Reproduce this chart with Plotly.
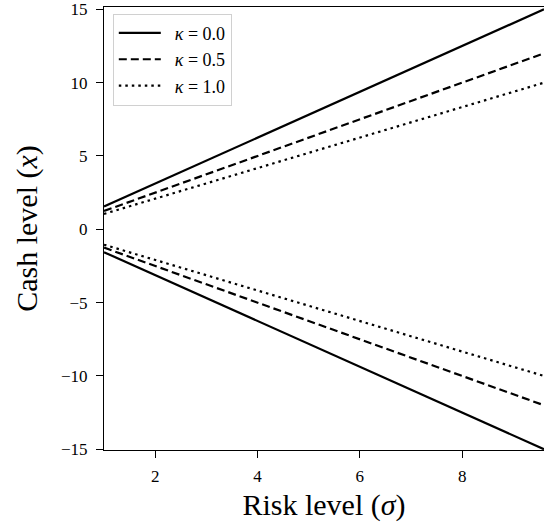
import plotly.graph_objects as go

sigma = [1.0, 9.6]
kappas = ["0.0", "0.5", "1.0"]
upper = {"0.0": [1.56, 15.0], "0.5": [1.25, 12.0], "1.0": [1.05, 10.0]}
lower = {"0.0": [-1.56, -15.0], "0.5": [-1.25, -12.0], "1.0": [-1.05, -10.0]}
dashes = {"0.0": "solid", "0.5": "8px,4px", "1.0": "2.5px,4px"}
y_ticks = [-15, -10, -5, 0, 5, 10, 15]
x_ticks = [2, 4, 6, 8]

font = "Liberation Serif"
sp = "\u2005"
fig = go.Figure()
for k in kappas:
    fig.add_trace(go.Scatter(x=sigma, y=upper[k], mode="lines",
                             line=dict(color="black", width=2.2, dash=dashes[k]),
                             name=f"  <i>κ</i>{sp}={sp}" + k, legendgroup=k))
    fig.add_trace(go.Scatter(x=sigma, y=lower[k], mode="lines",
                             line=dict(color="black", width=2.2, dash=dashes[k]),
                             name=f"  <i>κ</i>{sp}={sp}" + k, legendgroup=k, showlegend=False))

fig.update_layout(
    width=544, height=530,
    margin=dict(l=104, r=0, t=5, b=80),
    plot_bgcolor="white", paper_bgcolor="white",
    font=dict(family=font, color="black", size=17),
    legend=dict(x=0.02, y=0.985, xanchor="left", yanchor="top",
                bordercolor="#d0d0d0", borderwidth=1, bgcolor="white",
                font=dict(family=font, size=18), tracegroupgap=0, itemwidth=42),
    xaxis=dict(range=[1, 9.6], tickvals=x_ticks, showgrid=False, zeroline=False,
               showline=True, linecolor="black", linewidth=1.2, mirror=True,
               ticks="outside", ticklen=7, tickcolor="black", ticklabelstandoff=3,
               tickfont=dict(size=17, family=font),
               title=dict(text="Risk level (<i>σ</i>)", font=dict(size=30, family=font), standoff=9)),
    yaxis=dict(range=[-15.05, 15.16], tickvals=y_ticks, showgrid=False, zeroline=False,
               showline=True, linecolor="black", linewidth=1.2,
               ticks="outside", ticklen=7, tickcolor="black", ticklabelstandoff=5,
               ticklabeloverflow="allow",
               tickfont=dict(size=17, family=font),
               title=dict(text="Cash level (<i>x</i>)", font=dict(size=30, family=font), standoff=14)),
)
fig.write_html("out.html")
